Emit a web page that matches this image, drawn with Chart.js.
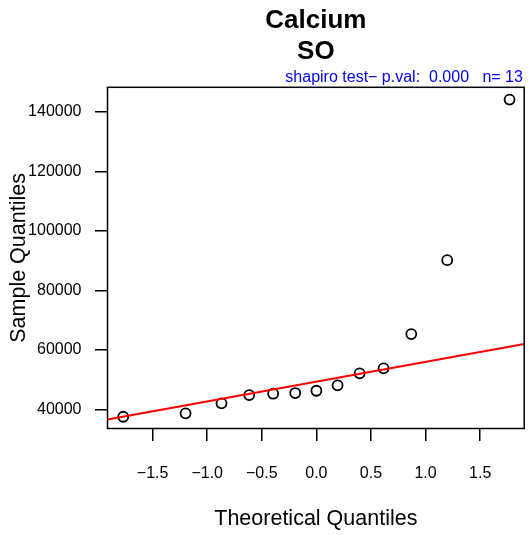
<!DOCTYPE html>
<html>
<head>
<meta charset="utf-8">
<script src="https://cdn.jsdelivr.net/npm/chart.js@4"></script>
<style>
  body { margin: 0; background: #fff; }
  canvas { display: block; }
</style>
</head>
<body>
<canvas id="qq" width="531" height="535"></canvas>
<script>
// Normal QQ plot data
var theoretical = [-1.769, -1.198, -0.869, -0.615, -0.396, -0.194, 0, 0.194, 0.396, 0.615, 0.869, 1.198, 1.769];
var sample = [37500, 38650, 42000, 44800, 45250, 45480, 46250, 48070, 52100, 53780, 65300, 90170, 144170];
var xTicks = [-1.5, -1.0, -0.5, 0.0, 0.5, 1.0, 1.5];
var yTicks = [40000, 60000, 80000, 100000, 120000, 140000];
var xRange = [-1.913, 1.903];
var yRange = [33550, 148300];

// qqline: through the first and third quartiles
function quartile(arr, p) {
    let s = arr.slice().sort(function (a, b) { return a - b; });
    let h = (s.length - 1) * p;
    let lo = Math.floor(h);
    return s[lo] + (h - lo) * ((s[lo + 1] !== undefined ? s[lo + 1] : s[lo]) - s[lo]);
}
var zq = 0.6744898;
var q1 = quartile(sample, 0.25);
var q3 = quartile(sample, 0.75);
var slope = (q3 - q1) / (2 * zq);
var intercept = q1 + zq * slope;
var fitLine = [
    { x: xRange[0], y: intercept + slope * xRange[0] },
    { x: xRange[1], y: intercept + slope * xRange[1] }
];

var points = [];
for (let i = 0; i < theoretical.length; i++) {
    points.push({ x: theoretical[i], y: sample[i] });
}

// box around the plot region
const frame = {
    id: 'frame',
    afterDatasetsDraw(chart) {
        const a = chart.chartArea;
        const ctx = chart.ctx;
        ctx.save();
        ctx.strokeStyle = '#000';
        ctx.lineWidth = 1.5;
        ctx.strokeRect(a.left, a.top, a.right - a.left, a.bottom - a.top);
        ctx.restore();
    }
};

const ctx = document.getElementById('qq');
const chart = new Chart(ctx, {
    type: 'scatter',
    data: {
        datasets: [{
            data: fitLine,
            showLine: true,
            borderColor: '#ff0000',
            borderWidth: 2,
            pointRadius: 0,
            order: 0
        }, {
            data: points,
            pointRadius: 5,
            pointHoverRadius: 5,
            borderWidth: 1.8,
            borderColor: '#000',
            backgroundColor: 'rgba(0,0,0,0)',
            order: 1
        }]
    },
    plugins: [frame],
    options: {
        responsive: false,
        animation: false,
        events: [],
        layout: { padding: { left: 0, right: 4.5, top: 0, bottom: 0 } },
        plugins: {
            legend: { display: false },
            tooltip: { enabled: false },
            title: {
                display: true,
                fullSize: false,
                text: ['Calcium', 'SO'],
                color: '#000',
                font: { family: 'Liberation Sans', size: 26, weight: 'bold', lineHeight: 1.2 },
                padding: { top: 5.5, bottom: 0 }
            },
            subtitle: {
                display: true,
                fullSize: false,
                align: 'end',
                text: 'shapiro test\u2212 p.val:  0.000   n= 13\u200A',
                color: '#0000ff',
                font: { family: 'Liberation Sans', size: 16, lineHeight: 1.2 },
                padding: { top: 0, bottom: 0.2 }
            }
        },
        scales: {
            x: {
                type: 'linear',
                min: xRange[0],
                max: xRange[1],
                afterFit: function (scale) { scale.height = 106.5; },
                afterBuildTicks: function (scale) {
                    scale.ticks = xTicks.map(function (v) { return { value: v }; });
                },
                grid: { drawOnChartArea: false, drawTicks: true, tickLength: 12.5, color: '#000', lineWidth: 1.5 },
                border: { display: false },
                ticks: {
                    padding: 23,
                    color: '#000',
                    maxRotation: 0,
                    autoSkip: false,
                    font: { family: 'Liberation Sans', size: 16 },
                    callback: function (v) { return (v < 0 ? '\u2212' : '') + Math.abs(v).toFixed(1); }
                },
                title: {
                    display: true,
                    text: 'Theoretical Quantiles',
                    color: '#000',
                    font: { family: 'Liberation Sans', size: 21.5, lineHeight: 1.2 },
                    padding: { top: 0, bottom: 3 }
                }
            },
            y: {
                type: 'linear',
                min: yRange[0],
                max: yRange[1],
                afterFit: function (scale) { scale.width = 107.5; },
                afterBuildTicks: function (scale) {
                    scale.ticks = yTicks.map(function (v) { return { value: v }; });
                },
                grid: { drawOnChartArea: false, drawTicks: true, tickLength: 12.5, color: '#000', lineWidth: 1.5 },
                border: { display: false },
                ticks: {
                    padding: 13.5,
                    color: '#000',
                    autoSkip: false,
                    font: { family: 'Liberation Sans', size: 16 },
                    callback: function (v) { return String(v); }
                },
                title: {
                    display: true,
                    text: 'Sample Quantiles',
                    color: '#000',
                    font: { family: 'Liberation Sans', size: 21.5, lineHeight: 1.2 },
                    padding: { top: 6.4, bottom: 0 }
                }
            }
        }
    }
});
</script>
</body>
</html>
